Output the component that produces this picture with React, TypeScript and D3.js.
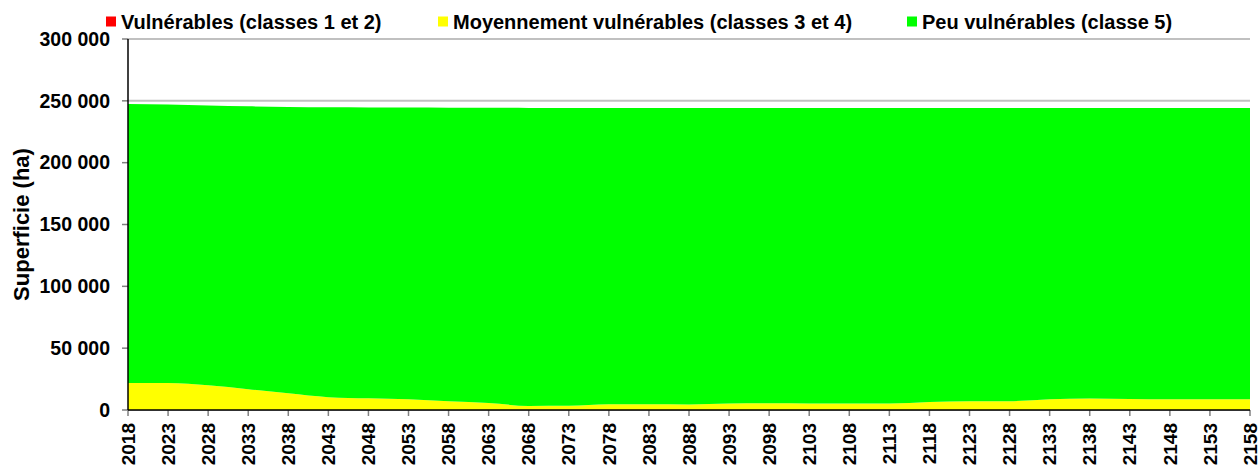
import React from "react";
import * as d3 from "d3";

const years = [2018, 2023, 2028, 2033, 2038, 2043, 2048, 2053, 2058, 2063, 2068, 2073, 2078, 2083, 2088, 2093, 2098, 2103, 2108, 2113, 2118, 2123, 2128, 2133, 2138, 2143, 2148, 2153, 2158];
const vulnerables = [0, 0, 0, 0, 0, 0, 0, 0, 0, 0, 0, 0, 0, 0, 0, 0, 0, 0, 0, 0, 0, 0, 0, 0, 0, 0, 0, 0, 0];
const moyennement = [21800, 21800, 20000, 16800, 13500, 10400, 9500, 8600, 7000, 5700, 3300, 3400, 4600, 4600, 4500, 5300, 5400, 5300, 5300, 5200, 6400, 7000, 7100, 8600, 9400, 8900, 8600, 8600, 8600];
const total = [247500, 247000, 246300, 245600, 245100, 244800, 244700, 244600, 244500, 244400, 244300, 244300, 244300, 244300, 244300, 244300, 244300, 244300, 244300, 244300, 244300, 244300, 244300, 244300, 244300, 244300, 244300, 244300, 244300];
const peu = total.map((t, i) => t - moyennement[i] - vulnerables[i]);

const seriesNames = ["Vulnérables (classes 1 et 2)", "Moyennement vulnérables (classes 3 et 4)", "Peu vulnérables (classe 5)"];
const seriesColors = ["#ff0000", "#ffff00", "#00ff00"];
const yTicks = [0, 50000, 100000, 150000, 200000, 250000, 300000];

const W = 1260, H = 466;
const left = 128, right = 1250, top = 39, bottom = 410;
const FONT = "Liberation Sans, Arial, sans-serif";

export default function App() {
  const x = d3.scaleLinear().domain([2018, 2158]).range([left, right]);
  const y = d3.scaleLinear().domain([0, 300000]).range([bottom, top]);
  const rows = years.map((yr, i) => ({ year: yr, v0: vulnerables[i], v1: moyennement[i], v2: peu[i] }));
  const stack = d3.stack<any>().keys(["v0", "v1", "v2"]);
  const stacked = stack(rows);
  const area = d3.area<any>()
    .x((d) => x(d.data.year))
    .y0((d) => y(d[0]))
    .y1((d) => y(d[1]))
    .curve(d3.curveMonotoneX);
  const fmt = (v: number) => (v === 0 ? "0" : d3.format(",")(v).replace(/,/g, " "));
  const legendX = [106, 438, 907];

  return (
    <svg width={W} height={H} style={{ position: "absolute", left: 0, top: 0, background: "#fff" }} fontFamily={FONT}>
      {yTicks.map((t) => (
        <line key={"g" + t} x1={left} x2={right} y1={y(t)} y2={y(t)} stroke="#c0c0c0" strokeWidth={2} />
      ))}
      {stacked.map((s, i) => (
        <path key={i} d={area(s as any) || ""} fill={seriesColors[i]} stroke="none" />
      ))}
      {yTicks.map((t) => (
        <g key={"y" + t}>
          <line x1={left - 6} x2={left} y1={y(t)} y2={y(t)} stroke="#808080" strokeWidth={1.5} />
          <text x={110} y={y(t)} dy="0.35em" textAnchor="end" fontSize={19.5} fontWeight="bold" fill="#000">{fmt(t)}</text>
        </g>
      ))}
      {years.map((yr) => (
        <g key={"x" + yr}>
          <line x1={x(yr)} x2={x(yr)} y1={bottom} y2={bottom + 6} stroke="#808080" strokeWidth={1.5} />
          <text transform={`translate(${x(yr)},${bottom + 13}) rotate(-90)`} dy="0.35em" textAnchor="end" fontSize={19} fontWeight="bold" fill="#000">{yr}</text>
        </g>
      ))}
      <line x1={left} x2={left} y1={top} y2={bottom} stroke="#000" strokeWidth={1.5} />
      <line x1={left} x2={right} y1={bottom} y2={bottom} stroke="#000" strokeWidth={1.5} />
      <text transform={`translate(29,${(top + bottom) / 2}) rotate(-90)`} textAnchor="middle" fontSize={22} fontWeight="bold" fill="#000">Superficie (ha)</text>
      {seriesNames.map((n, i) => (
        <g key={"l" + i}>
          <rect x={legendX[i]} y={16.5} width={10} height={10} fill={seriesColors[i]} />
          <text x={legendX[i] + 15} y={29} fontSize={20} fontWeight="bold" fill="#000">{n}</text>
        </g>
      ))}
    </svg>
  );
}
